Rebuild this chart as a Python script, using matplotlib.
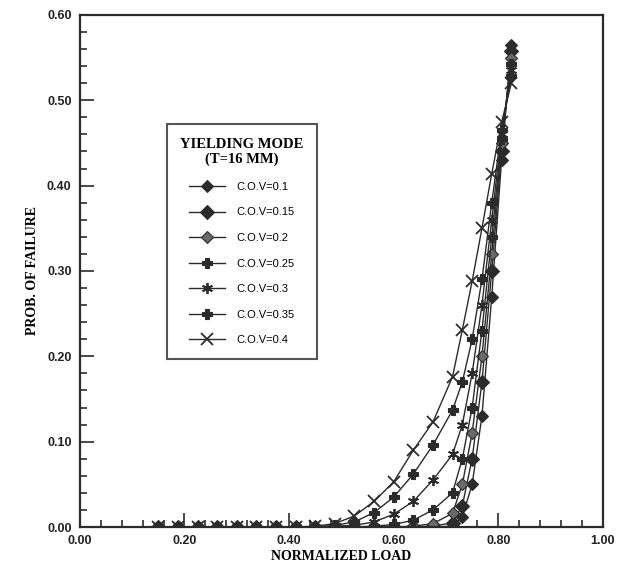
import matplotlib
matplotlib.use("Agg")
import matplotlib.pyplot as plt
from matplotlib.ticker import MultipleLocator, FormatStrFormatter

# ---- data ----
x_coarse = [0.15, 0.1875, 0.225, 0.2625, 0.30, 0.3375, 0.375, 0.4125, 0.45,
            0.4875, 0.525, 0.5625, 0.60, 0.6375, 0.675, 0.7125]
x_fine = [0.73125, 0.75, 0.76875, 0.7875, 0.80625, 0.825]
load = x_coarse + x_fine

labels = ["C.O.V=0.1", "C.O.V=0.15", "C.O.V=0.2", "C.O.V=0.25",
          "C.O.V=0.3", "C.O.V=0.35", "C.O.V=0.4"]

pf_010 = [0, 0, 0, 0, 0, 0, 0, 0, 0, 0, 0, 0, 0, 0, 0, 0.001,
          0.012, 0.05, 0.13, 0.27, 0.43, 0.565]
pf_015 = [0, 0, 0, 0, 0, 0, 0, 0, 0, 0, 0, 0, 0, 0, 0.001, 0.005,
          0.025, 0.08, 0.17, 0.30, 0.44, 0.558]
pf_020 = [0, 0, 0, 0, 0, 0, 0, 0, 0, 0, 0, 0, 0, 0.001, 0.004, 0.016,
          0.05, 0.11, 0.20, 0.32, 0.45, 0.55]
pf_025 = [0, 0, 0, 0, 0, 0, 0, 0, 0, 0, 0, 0.001, 0.003, 0.008, 0.02, 0.04,
          0.08, 0.14, 0.23, 0.34, 0.455, 0.542]
pf_030 = [0, 0, 0, 0, 0, 0, 0, 0, 0, 0.001, 0.002, 0.006, 0.015, 0.03, 0.055, 0.085,
          0.12, 0.18, 0.26, 0.36, 0.46, 0.535]
pf_035 = [0, 0, 0, 0, 0, 0, 0, 0, 0, 0.002, 0.006, 0.017, 0.035, 0.062, 0.096, 0.137,
          0.17, 0.22, 0.29, 0.38, 0.465, 0.528]
pf_040 = [0, 0, 0, 0, 0, 0, 0, 0, 0.001, 0.004, 0.013, 0.03, 0.053, 0.09, 0.123, 0.176,
          0.231, 0.288, 0.35, 0.414, 0.474, 0.52]

series = [pf_010, pf_015, pf_020, pf_025, pf_030, pf_035, pf_040]
markers = ["D", "D", "D", "P", (6, 2, 0), "P", "x"]
msizes = [6.5, 7, 6.5, 7.5, 8, 7.5, 8]
faces = ["#2b2b2b", "#2b2b2b", "#6a6a6a", "#2b2b2b", "#2b2b2b", "#2b2b2b", "#2b2b2b"]

ink = "#2b2b2b"

fig = plt.figure(figsize=(6.19, 5.71), dpi=100)
ax = fig.add_axes([0.129, 0.077, 0.845, 0.897])

for ys, lab, m, ms, fc in zip(series, labels, markers, msizes, faces):
    ax.plot(load, ys, color=ink, lw=1.0, marker=m, ms=ms, mfc=fc, mec=ink,
            mew=1.3 if m in ("x", (6, 2, 0)) else 0.8, label=lab)

ax.set_xlim(0, 1.0)
ax.set_ylim(0, 0.6)
ax.xaxis.set_major_locator(MultipleLocator(0.2))
ax.xaxis.set_minor_locator(MultipleLocator(0.04))
ax.yaxis.set_major_locator(MultipleLocator(0.1))
ax.yaxis.set_minor_locator(MultipleLocator(0.02))
ax.xaxis.set_major_formatter(FormatStrFormatter("%.2f"))
ax.yaxis.set_major_formatter(FormatStrFormatter("%.2f"))
ax.tick_params(which="both", direction="in", top=False, right=False, color=ink, width=1.2)
ax.tick_params(which="major", length=10)
ax.tick_params(which="minor", length=5)
ax.tick_params(axis="both", which="major", labelsize=9, pad=6)
for lab in ax.get_xticklabels() + ax.get_yticklabels():
    lab.set_fontweight("bold")
    lab.set_family("Liberation Sans")
    lab.set_color("#222222")
for sp in ax.spines.values():
    sp.set_linewidth(1.6)
    sp.set_color(ink)

ax.set_xlabel("NORMALIZED LOAD", fontsize=10, fontweight="bold",
              family="Liberation Serif", labelpad=2)
ax.set_ylabel("PROB. OF FAILURE", fontsize=10, fontweight="bold",
              family="Liberation Serif", labelpad=6)

leg = ax.legend(loc="upper left", bbox_to_anchor=(0.166, 0.786),
                title="YIELDING MODE\n(T=16 MM)", frameon=True, fancybox=False,
                edgecolor=ink, prop={"family": "Liberation Sans", "size": 8},
                labelspacing=1.4, handlelength=3.2, handletextpad=1.0,
                borderpad=1.2, borderaxespad=0)
leg.get_title().set_fontweight("bold")
leg.get_title().set_family("Liberation Serif")
leg.get_title().set_fontsize(10.5)
leg.get_title().set_multialignment("center")
leg.get_frame().set_linewidth(1.5)

fig.savefig("out.png", dpi=100)
